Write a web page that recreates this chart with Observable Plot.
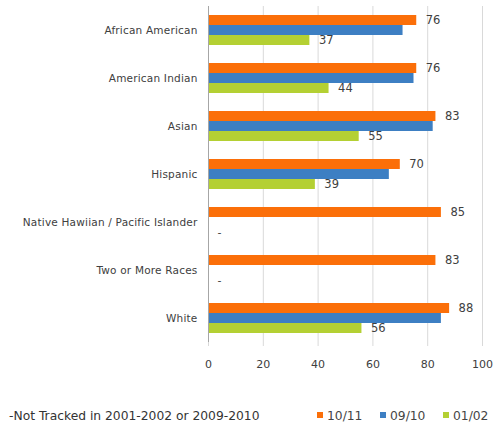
<!DOCTYPE html>
<html>
<head>
<meta charset="utf-8">
<script src="https://cdn.jsdelivr.net/npm/d3@7"></script>
<script src="https://cdn.jsdelivr.net/npm/@observablehq/plot@0.6"></script>
<style>
  body { margin: 0; background: #fff; font-family: "DejaVu Sans", Verdana, sans-serif; }
  #wrap { position: relative; width: 494px; height: 428px; }
  #legend { position: absolute; top: 409px; left: 0; width: 494px; height: 18px; font-size: 12.3px; color: #333; }
  #legend .note { position: absolute; left: 9px; top: 0; }
  #legend .item { position: absolute; top: 0; color: #444; }
  #legend .sw { display: inline-block; width: 6px; height: 6px; margin-right: 4px; vertical-align: 2px; }
  .fylab text { letter-spacing: 0.2px; }
</style>
</head>
<body>
<div id="wrap">
  <div id="chart"></div>
  <div id="legend"></div>
</div>
<script>
const categories = ["African American", "American Indian", "Asian", "Hispanic", "Native Hawiian / Pacific Islander", "Two or More Races", "White"];
const seriesNames = ["10/11", "09/10", "01/02"];
const values1011 = [76, 76, 83, 70, 85, 83, 88];
const values0910 = [71, 75, 82, 66, null, null, 85];
const values0102 = [37, 44, 55, 39, null, null, 56];
const colors = ["#fb6f09", "#3d7fc3", "#b4d033"];
const xTicks = [0, 20, 40, 60, 80, 100];
const note = "-Not Tracked in 2001-2002 or 2009-2010";

const seriesValues = [values1011, values0910, values0102];
const data = [];
categories.forEach((c, i) => {
  seriesNames.forEach((s, j) => {
    data.push({category: c, series: s, value: seriesValues[j][i], labeled: j !== 1});
  });
});
const bars = data.filter(d => d.value != null);
const labels = data.filter(d => d.labeled && d.value != null);
const missing = data.filter(d => d.series === "01/02" && d.value == null);

const chart = Plot.plot({
  width: 494,
  height: 380,
  marginLeft: 208,
  marginRight: 12,
  marginTop: 6,
  marginBottom: 38,
  style: { fontFamily: "DejaVu Sans, Verdana, sans-serif", fontSize: "11px", color: "#404040" },
  x: { domain: [0, 100], axis: null },
  y: { domain: seriesNames, axis: null, padding: 0.05, insetTop: 8, insetBottom: 8 },
  fy: { domain: categories, padding: 0, axis: null },
  color: { domain: seriesNames, range: colors },
  marks: [
    Plot.gridX(xTicks, { stroke: "#d9d9d9", strokeOpacity: 1 }),
    Plot.barX(bars, { fy: "category", y: "series", x: "value", fill: "series" }),
    Plot.ruleX([0], { stroke: "#a6a6a6" }),
    Plot.text(labels, { fy: "category", y: "series", x: "value", text: d => String(d.value), textAnchor: "start", dx: 9, fontSize: 11.5, fill: "#404040" }),
    Plot.text(missing, { fy: "category", y: "series", x: 0, text: () => "-", textAnchor: "start", dx: 9, fontSize: 11, fill: "#404040" }),
    Plot.axisFy({ anchor: "left", tickSize: 0, tickPadding: 11, fontSize: 10.5, label: null, fill: "#404040", className: "fylab" }),
    Plot.axisX(xTicks, { anchor: "bottom", tickSize: 4, tickPadding: 14, stroke: "#d9d9d9", fontSize: 11, label: null, fill: "#404040" })
  ]
});
document.getElementById("chart").appendChild(chart);

const legend = document.getElementById("legend");
const n = document.createElement("span");
n.className = "note";
n.textContent = note;
legend.appendChild(n);
const lefts = [317, 380, 443];
seriesNames.forEach((s, i) => {
  const it = document.createElement("span");
  it.className = "item";
  it.style.left = lefts[i] + "px";
  const sw = document.createElement("span");
  sw.className = "sw";
  sw.style.background = colors[i];
  it.appendChild(sw);
  it.appendChild(document.createTextNode(s));
  legend.appendChild(it);
});
</script>
</body>
</html>
